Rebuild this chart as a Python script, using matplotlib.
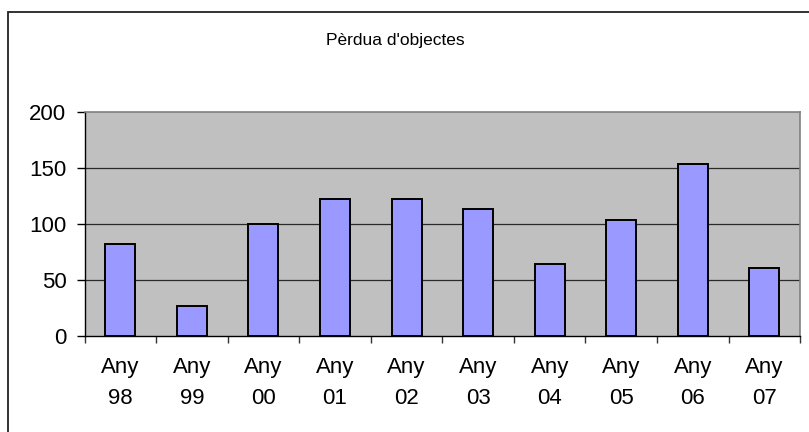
import matplotlib.pyplot as plt
import matplotlib.patches as mpatches
import numpy as np

plt.rcParams['font.family'] = ['Liberation Sans', 'DejaVu Sans']

# lost items per year
years = ['98', '99', '00', '01', '02', '03', '04', '05', '06', '07']
tick_labels = ['Any\n' + y for y in years]
lost = [82, 27, 100, 122, 122, 113, 64, 103, 153, 61]

fig = plt.figure(figsize=(8.09, 4.32), dpi=100)
ax = fig.add_axes([0.1045, 0.2222, 0.8845, 0.5192])

# chart frame (right/bottom edges fall outside the canvas)
fig.patches.append(mpatches.Rectangle((8 / 809, -0.05), 1.2, 1 - 12 / 432 + 0.05,
                                      transform=fig.transFigure, fill=False,
                                      edgecolor='#222222', linewidth=1.3))

x = np.arange(len(years))
ax.set_facecolor('#c0c0c0')
ax.bar(x, lost, width=0.42, color='#9999ff', edgecolor='black', linewidth=1.4, zorder=3)

ax.set_xlim(-0.5, len(years) - 0.5)
ax.set_ylim(0, 200)
ax.set_yticks([0, 50, 100, 150, 200])
for v in [50, 100, 150]:
    ax.axhline(v, color='#2a2a2a', linewidth=0.9, zorder=1)

ax.set_xticks(x)
ax.set_xticklabels(tick_labels, linespacing=1.62)
ax.set_xticks(np.arange(len(years) + 1) - 0.5, minor=True)
ax.tick_params(axis='x', which='major', length=0, pad=15, labelsize=16)
ax.tick_params(axis='x', which='minor', length=5, width=1, color='#333333')
ax.tick_params(axis='y', length=6, width=1, pad=7, labelsize=16)

for side in ['top', 'right']:
    ax.spines[side].set_color('#808080')
    ax.spines[side].set_linewidth(1.2)
for side in ['left', 'bottom']:
    ax.spines[side].set_color('black')
    ax.spines[side].set_linewidth(1.0)

fig.text(395 / 809, 1 - 40 / 432, "Pèrdua d'objectes", ha='center', va='center', fontsize=12.5)

fig.savefig('out.png', dpi=100)
